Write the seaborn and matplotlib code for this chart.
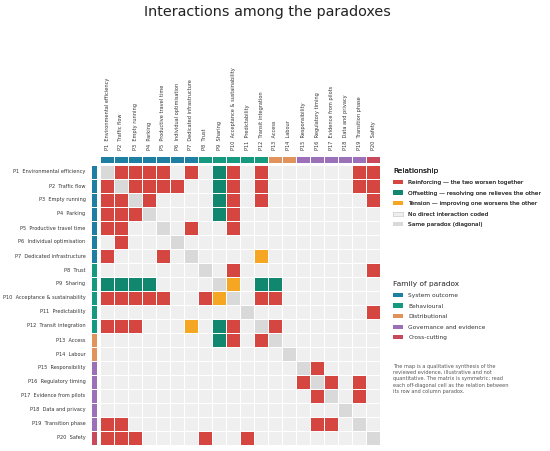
import matplotlib
matplotlib.use("Agg")
import matplotlib.pyplot as plt
from matplotlib.colors import ListedColormap
from matplotlib.patches import Patch
import numpy as np
import pandas as pd
import seaborn as sns

labels = ["P1  Environmental efficiency", "P2  Traffic flow", "P3  Empty running",
          "P4  Parking", "P5  Productive travel time", "P6  Individual optimisation",
          "P7  Dedicated infrastructure", "P8  Trust", "P9  Sharing",
          "P10  Acceptance & sustainability", "P11  Predictability", "P12  Transit integration",
          "P13  Access", "P14  Labour", "P15  Responsibility", "P16  Regulatory timing",
          "P17  Evidence from pilots", "P18  Data and privacy", "P19  Transition phase",
          "P20  Safety"]

# family index per paradox: 0 system, 1 behavioural, 2 distributional, 3 governance, 4 cross-cutting
family = [0, 0, 0, 0, 0, 0, 0, 1, 1, 1, 1, 1, 2, 2, 3, 3, 3, 3, 3, 4]
family_names = ["System outcome", "Behavioural", "Distributional",
                "Governance and evidence", "Cross-cutting"]
family_colors = ["#1f7fa3", "#169a7f", "#e0935b", "#9b70b8", "#c8485c"]

# pairs (1-based) by relationship type
reinforcing = [(1, 2), (1, 3), (1, 4), (1, 5), (1, 7), (1, 10), (1, 12), (1, 19), (1, 20),
               (2, 3), (2, 4), (2, 5), (2, 6), (2, 10), (2, 12), (2, 19), (2, 20),
               (3, 4), (3, 10), (3, 12), (3, 20),
               (4, 10), (5, 7), (5, 10), (8, 10), (8, 20),
               (10, 12), (10, 13), (11, 20), (12, 13),
               (15, 16), (16, 17), (16, 19), (17, 19)]
offsetting = [(1, 9), (2, 9), (3, 9), (4, 9), (9, 12), (9, 13)]
tension = [(9, 10), (7, 12)]

rel_names = ["Reinforcing \u2014 the two worsen together",
             "Offsetting \u2014 resolving one relieves the other",
             "Tension \u2014 improving one worsens the other",
             "No direct interaction coded",
             "Same paradox (diagonal)"]
# colour order by code: 0 none, 1 reinforcing, 2 offsetting, 3 tension, 4 diagonal
code_colors = ["#efefef", "#d4463f", "#11876f", "#f5a623", "#d9d9d9"]

n = len(labels)
mat = np.zeros((n, n), dtype=int)
for code, pairs in [(1, reinforcing), (2, offsetting), (3, tension)]:
    for a, b in pairs:
        mat[a - 1, b - 1] = code
        mat[b - 1, a - 1] = code
np.fill_diagonal(mat, 4)
df = pd.DataFrame(mat, index=labels, columns=labels)

fig = plt.figure(figsize=(5.5, 4.51), dpi=100)
W, H = 550, 451
ax = fig.add_axes([100 / W, (H - 445) / H, 280 / W, 280 / H])
ax_top = fig.add_axes([100 / W, (H - 163) / H, 280 / W, 7 / H])
ax_left = fig.add_axes([91 / W, (H - 445) / H, 6 / W, 280 / H])

sns.heatmap(df, ax=ax, cmap=ListedColormap(code_colors), vmin=-0.5, vmax=4.5,
            cbar=False, linewidths=0.5, linecolor="white", square=False)
ax.set_xticks([])
ax.set_yticks([])
ax.set_xlabel("")
ax.set_ylabel("")

fam_cmap = ListedColormap(family_colors)
sns.heatmap(pd.DataFrame([family], columns=labels), ax=ax_top, cmap=fam_cmap,
            vmin=-0.5, vmax=4.5, cbar=False, linewidths=0.5, linecolor="white")
ax_top.xaxis.tick_top()
ax_top.set_xticks(np.arange(n) + 0.5)
ax_top.set_xticklabels(labels, rotation=90, fontsize=3.6, color="#333333")
ax_top.tick_params(axis="x", length=0, pad=4)
ax_top.set_yticks([])
ax_top.set_xlabel("")

sns.heatmap(pd.DataFrame(family, index=labels), ax=ax_left, cmap=fam_cmap,
            vmin=-0.5, vmax=4.5, cbar=False, linewidths=0.5, linecolor="white")
ax_left.set_yticks(np.arange(n) + 0.5)
ax_left.set_yticklabels(labels, rotation=0, fontsize=3.6, color="#333333")
ax_left.tick_params(axis="y", length=0, pad=4)
ax_left.set_xticks([])
ax_left.set_ylabel("")

fig.text(0.487, 0.974, "Interactions among the paradoxes", ha="center", va="center",
         fontsize=10.4, color="#222222")

rel_handles = [Patch(facecolor=code_colors[1]), Patch(facecolor=code_colors[2]),
               Patch(facecolor=code_colors[3]),
               Patch(facecolor=code_colors[0], edgecolor="#cccccc", linewidth=0.4),
               Patch(facecolor=code_colors[4])]
leg1 = fig.legend(rel_handles, rel_names, loc="upper left", bbox_to_anchor=(388 / W, (H - 163) / H),
                  frameon=False, fontsize=4.2, title="Relationship", title_fontsize=5.3,
                  handlelength=1.7, handleheight=0.7, handletextpad=0.9, labelspacing=0.95,
                  alignment="left", labelcolor="#333333")
leg1.get_title().set_color("#222222")
fam_handles = [Patch(facecolor=c) for c in family_colors]
leg2 = fig.legend(fam_handles, family_names, loc="upper left", bbox_to_anchor=(388 / W, (H - 276) / H),
                  frameon=False, fontsize=4.2, title="Family of paradox", title_fontsize=5.3,
                  handlelength=1.7, handleheight=0.7, handletextpad=0.9, labelspacing=0.95,
                  alignment="left", labelcolor="#333333")
leg2.get_title().set_color("#222222")
fig.add_artist(leg1)

fig.text(393 / W, (H - 364) / H,
         "The map is a qualitative synthesis of the\nreviewed evidence, illustrative and not\n"
         "quantitative. The matrix is symmetric; read\neach off-diagonal cell as the relation between\n"
         "its row and column paradox.",
         ha="left", va="top", fontsize=3.6, color="#555555", linespacing=1.3)

fig.savefig("out.png", dpi=100)
